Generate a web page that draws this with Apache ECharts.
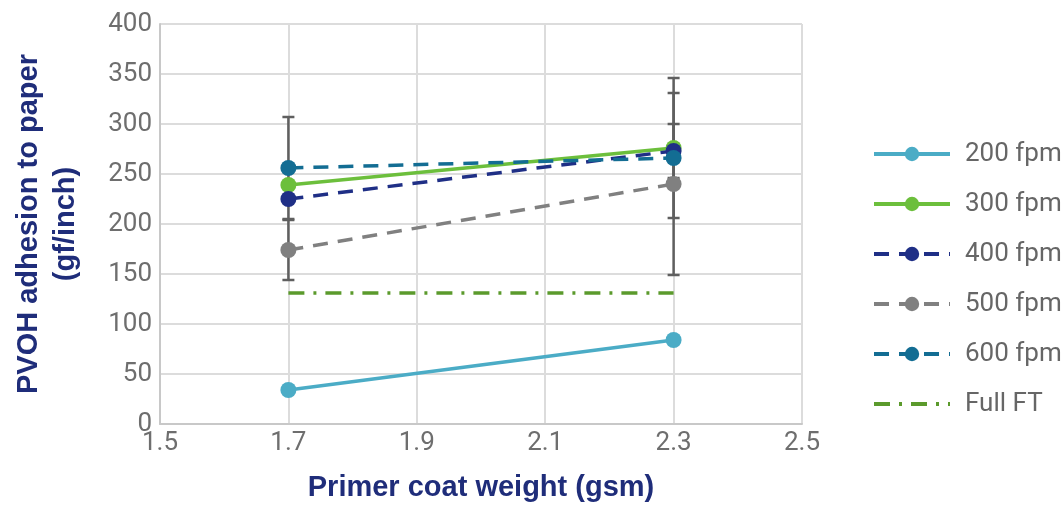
<!DOCTYPE html>
<html><head><meta charset="utf-8">
<script src="https://cdn.jsdelivr.net/npm/echarts@6/dist/echarts.min.js"></script>
<style>html,body{margin:0;padding:0;background:#fff}#c{width:1064px;height:508px}</style>
</head><body><div id="c"></div>
<script>
const xValues = [1.7, 2.3];
const seriesNames = ['200 fpm', '300 fpm', '400 fpm', '500 fpm', '600 fpm', 'Full FT'];
const s200 = [34, 84];
const s300 = [239, 276];
const s400 = [225, 273];
const s500 = [174, 240];
const s600 = [256, 266];
const sFullFT = [131, 131];
// symmetric error half-widths per point
const err300 = [0, 70];
const err400 = [0, 27];
const err500 = [30, 91];
const err600 = [51, 0];

const colors = ['#4bacc6', '#6cbf3c', '#1f2f86', '#808080', '#136d93', '#5b9a2c'];
const values = [s200, s300, s400, s500, s600, sFullFT];
const lineTypes = ['solid', 'solid', [15, 10], [15, 10], [15, 10], [16, 9, 3, 9]];
const hasSymbol = [true, true, true, true, true, false];

const errData = [];
[[s300, err300], [s400, err400], [s500, err500], [s600, err600]].forEach(([v, e]) => {
  v.forEach((y, i) => { if (e[i] > 0) errData.push([xValues[i], y - e[i], y + e[i]]); });
});

const chart = echarts.init(document.getElementById('c'));
const series = [{
  type: 'custom', name: 'err', z: 1, silent: true,
  data: errData,
  renderItem: function (params, api) {
    const x = api.value(0);
    const lo = api.coord([x, api.value(1)]);
    const hi = api.coord([x, api.value(2)]);
    const hw = 6;
    const st = { stroke: '#5f5f5f', lineWidth: 2.5 };
    return { type: 'group', children: [
      { type: 'line', shape: { x1: lo[0], y1: lo[1], x2: hi[0], y2: hi[1] }, style: st },
      { type: 'line', shape: { x1: lo[0] - hw, y1: lo[1], x2: lo[0] + hw, y2: lo[1] }, style: st },
      { type: 'line', shape: { x1: hi[0] - hw, y1: hi[1], x2: hi[0] + hw, y2: hi[1] }, style: st }
    ]};
  }
}];
seriesNames.forEach((n, k) => {
  series.push({
    type: 'line', name: n, z: 3 + k,
    data: xValues.map((x, i) => [x, values[k][i]]),
    symbol: hasSymbol[k] ? 'circle' : 'none',
    symbolSize: 16,
    itemStyle: { color: colors[k] },
    lineStyle: { color: colors[k], width: 3.5, type: lineTypes[k] }
  });
});

const legendData = seriesNames.map((n, k) => hasSymbol[k] ? { name: n } : { name: n, itemStyle: { opacity: 0 } });

chart.setOption({
  animation: false,
  grid: { left: 160, right: 262, top: 24, bottom: 84 },
  xAxis: {
    type: 'value', min: 1.5, max: 2.5, interval: 0.2,
    name: 'Primer coat weight (gsm)', nameLocation: 'middle', nameGap: 49,
    nameTextStyle: { color: '#1f2d7a', fontSize: 29, fontWeight: 'bold', fontFamily: 'Liberation Sans' },
    axisLine: { show: true, lineStyle: { color: '#c8c8c8', width: 2 } },
    axisTick: { show: false },
    axisLabel: { color: '#6e6e6e', fontSize: 26, fontFamily: 'Roboto', margin: 6, formatter: v => v.toFixed(1) },
    splitLine: { show: true, lineStyle: { color: '#dcdcdc', width: 2 } }
  },
  yAxis: {
    type: 'value', min: 0, max: 400, interval: 50,
    name: 'PVOH adhesion to paper\n(gf/inch)', nameLocation: 'middle', nameGap: 76, nameRotate: 90,
    nameTextStyle: { color: '#1f2d7a', fontSize: 29, fontWeight: 'bold', fontFamily: 'Liberation Sans', lineHeight: 37 },
    axisLine: { show: true, lineStyle: { color: '#c8c8c8', width: 2 } },
    axisTick: { show: false },
    axisLabel: { color: '#6e6e6e', fontSize: 26, fontFamily: 'Roboto', margin: 8 },
    splitLine: { show: true, lineStyle: { color: '#dcdcdc', width: 2 } }
  },
  legend: {
    orient: 'vertical', left: 867, top: 136, itemGap: 24, itemWidth: 76, itemHeight: 18,
    data: legendData,
    lineStyle: { width: 4 },
    textStyle: { color: '#666666', fontSize: 26, lineHeight: 26, fontFamily: 'Roboto', padding: [0, 0, 0, 10] }
  },
  series: series
});
</script></body></html>
